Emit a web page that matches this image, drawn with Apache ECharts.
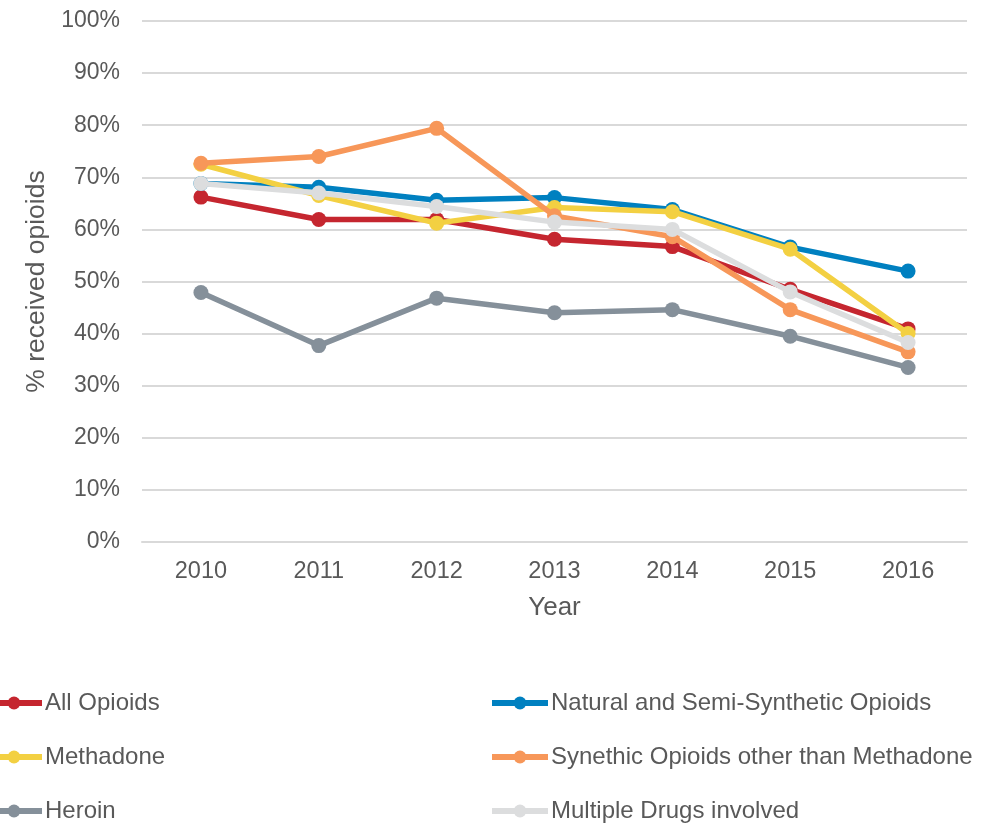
<!DOCTYPE html>
<html>
<head>
<meta charset="utf-8">
<script src="https://cdn.jsdelivr.net/npm/echarts@6/dist/echarts.min.js"></script>
<style>
  html, body { margin: 0; padding: 0; background: #ffffff; }
  #chart { width: 982px; height: 825px; }
</style>
</head>
<body>
<div id="chart"></div>
<script>
// Years on the category axis
const years = ['2010', '2011', '2012', '2013', '2014', '2015', '2016'];

// Share of decedents who received opioids, by drug group (%)
const allOpioids = [66.2, 61.9, 61.9, 58.1, 56.7, 48.5, 40.9];
const naturalSemiSynthetic = [68.8, 68.1, 65.6, 66.1, 63.8, 56.6, 52.0];
const methadone = [72.5, 66.5, 61.2, 64.2, 63.4, 56.2, 40.0];
const syntheticOther = [72.7, 74.0, 79.4, 62.6, 58.6, 44.6, 36.5];
const heroin = [47.9, 37.7, 46.8, 44.0, 44.6, 39.5, 33.5];
const multipleDrugs = [68.8, 67.0, 64.4, 61.4, 60.0, 48.0, 38.3];

// Y axis tick values (percent)
const yTicks = [0, 10, 20, 30, 40, 50, 60, 70, 80, 90, 100];

const seriesDefs = [
  { name: 'All Opioids', data: allOpioids, color: '#C5262F' },
  { name: 'Natural and Semi-Synthetic Opioids', data: naturalSemiSynthetic, color: '#0080C0' },
  { name: 'Methadone', data: methadone, color: '#F3D042' },
  { name: 'Synethic Opioids other than Methadone', data: syntheticOther, color: '#F79759' },
  { name: 'Heroin', data: heroin, color: '#85909A' },
  { name: 'Multiple Drugs involved', data: multipleDrugs, color: '#DCDDDE' }
];

const textColor = '#595959';
const fontFamily = 'Liberation Sans, Arial, sans-serif';

const legendCommon = {
  orient: 'vertical',
  top: 686,
  height: 170,
  itemWidth: 56,
  itemHeight: 16,
  itemGap: 30,
  lineStyle: { width: 6 },
  textStyle: { color: textColor, fontSize: 24, fontFamily: fontFamily, padding: [0, 0, 0, -2] }
};

const chart = echarts.init(document.getElementById('chart'), null, { renderer: 'canvas' });
chart.setOption({
  animation: false,
  backgroundColor: '#ffffff',
  textStyle: { fontFamily: fontFamily },
  grid: { left: 142, right: 15, top: 21, bottom: 283 },
  legend: [
    Object.assign({}, legendCommon, {
      left: -22,
      data: ['All Opioids', 'Methadone', 'Heroin']
    }),
    Object.assign({}, legendCommon, {
      left: 484,
      data: ['Natural and Semi-Synthetic Opioids', 'Synethic Opioids other than Methadone', 'Multiple Drugs involved']
    })
  ],
  xAxis: {
    type: 'category',
    data: years,
    boundaryGap: true,
    name: 'Year',
    nameLocation: 'middle',
    nameGap: 53,
    nameTextStyle: { color: textColor, fontSize: 26, fontFamily: fontFamily },
    axisLine: { show: true, lineStyle: { color: '#D9D9D9', width: 2 } },
    axisTick: { show: false },
    axisLabel: { color: textColor, fontSize: 23.5, margin: 18, fontFamily: fontFamily }
  },
  yAxis: {
    type: 'value',
    min: yTicks[0],
    max: yTicks[yTicks.length - 1],
    interval: 10,
    name: '% received opioids',
    nameLocation: 'middle',
    nameGap: 92,
    nameTextStyle: { color: textColor, fontSize: 26.5, fontFamily: fontFamily },
    axisLine: { show: false },
    axisTick: { show: false },
    axisLabel: { color: textColor, fontSize: 23, margin: 22, fontFamily: fontFamily, formatter: '{value}%' },
    splitLine: { lineStyle: { color: '#D9D9D9', width: 2 } }
  },
  series: seriesDefs.map(function (s, i) {
    return {
      name: s.name,
      type: 'line',
      data: s.data,
      z: 2 + i,
      symbol: 'circle',
      symbolSize: 15,
      color: s.color,
      itemStyle: { color: s.color },
      lineStyle: { color: s.color, width: 5.5 }
    };
  })
});
</script>
</body>
</html>
